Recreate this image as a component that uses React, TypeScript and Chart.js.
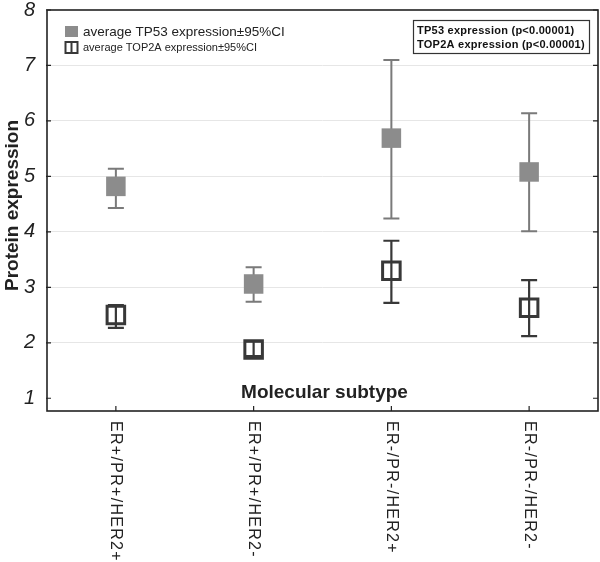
import React, { useEffect, useRef } from "react";
import { Chart, registerables } from "chart.js";

Chart.register(...registerables);

const categories = ["ER+/PR+/HER2+", "ER+/PR+/HER2-", "ER-/PR-/HER2+", "ER-/PR-/HER2-"];
const tp53Mean = [4.82, 3.06, 5.69, 5.08];
const tp53Low = [4.43, 2.74, 4.24, 4.01];
const tp53High = [5.14, 3.36, 7.1, 6.14];
const top2aMean = [2.5, 1.88, 3.3, 2.63];
const top2aLow = [2.27, 1.76, 2.72, 2.12];
const top2aHigh = [2.68, 2.02, 3.84, 3.13];
const yTicks = [1, 2, 3, 4, 5, 6, 7, 8];
const legendLabels = ["average TP53 expression±95%CI", "average TOP2A expression±95%CI"];
const annotationLines = ["TP53 expression (p<0.00001)", "TOP2A expression (p<0.00001)"];
const xTitle = "Molecular subtype";
const yTitle = "Protein expression";

const FONT = "'Liberation Sans', Arial, sans-serif";
const TP53_FILL = "#8c8c8c";
const TP53_BAR = "#7a7a7a";
const TOP2A_COLOR = "#383838";
const AXIS = "#222222";

const customPlugin = {
  id: "customDraw",
  beforeDatasetsDraw(chart: any) {
    const ctx = chart.ctx;
    const xs = chart.scales.x;
    const ys = chart.scales.y;
    const drawBars = (lo: number[], hi: number[], color: string, lw: number) => {
      ctx.save();
      ctx.strokeStyle = color;
      ctx.lineWidth = lw;
      for (let i = 0; i < categories.length; i++) {
        const x = xs.getPixelForValue(i);
        const y1 = ys.getPixelForValue(lo[i]);
        const y2 = ys.getPixelForValue(hi[i]);
        ctx.beginPath();
        ctx.moveTo(x, y1);
        ctx.lineTo(x, y2);
        ctx.moveTo(x - 8, y1);
        ctx.lineTo(x + 8, y1);
        ctx.moveTo(x - 8, y2);
        ctx.lineTo(x + 8, y2);
        ctx.stroke();
      }
      ctx.restore();
    };
    drawBars(tp53Low, tp53High, TP53_BAR, 2);
    drawBars(top2aLow, top2aHigh, TOP2A_COLOR, 2.2);
  },
  afterDraw(chart: any) {
    const ctx = chart.ctx;
    const { left, right, top, bottom } = chart.chartArea;
    const xs = chart.scales.x;
    const ys = chart.scales.y;
    ctx.save();
    // frame
    ctx.strokeStyle = AXIS;
    ctx.lineWidth = 1.6;
    ctx.strokeRect(left, top, right - left, bottom - top);
    // ticks
    ctx.lineWidth = 1.2;
    ctx.beginPath();
    for (const v of yTicks) {
      const y = ys.getPixelForValue(v);
      ctx.moveTo(left - 1, y);
      ctx.lineTo(left + 4, y);
      ctx.moveTo(right - 5, y);
      ctx.lineTo(right, y);
    }
    for (let i = 0; i < categories.length; i++) {
      const x = xs.getPixelForValue(i);
      ctx.moveTo(x, bottom);
      ctx.lineTo(x, bottom - 5);
    }
    ctx.stroke();

    // x labels (rotated clockwise)
    ctx.fillStyle = AXIS;
    ctx.font = `16px ${FONT}`;
    (ctx as any).letterSpacing = "1.3px";
    for (let i = 0; i < categories.length; i++) {
      const x = xs.getPixelForValue(i);
      ctx.save();
      ctx.translate(x, bottom + 10);
      ctx.rotate(Math.PI / 2);
      ctx.textAlign = "left";
      ctx.textBaseline = "middle";
      ctx.fillText(categories[i], 0, 0);
      ctx.restore();
    }
    (ctx as any).letterSpacing = "0px";

    // x title inside plot
    ctx.font = `bold 19px ${FONT}`;
    ctx.textAlign = "center";
    ctx.textBaseline = "middle";
    ctx.fillText(xTitle, (left + right) / 2 + 2, bottom - 18);

    // y title
    ctx.save();
    ctx.translate(13, (top + bottom) / 2 - 5);
    ctx.rotate(-Math.PI / 2);
    ctx.font = `bold 19px ${FONT}`;
    ctx.textAlign = "center";
    ctx.textBaseline = "middle";
    ctx.fillText(yTitle, 0, 0);
    ctx.restore();

    // legend
    ctx.fillStyle = TP53_FILL;
    ctx.fillRect(65, 26, 13, 11);
    ctx.strokeStyle = TOP2A_COLOR;
    ctx.lineWidth = 2;
    ctx.strokeRect(65.5, 42, 12, 11);
    ctx.beginPath();
    ctx.moveTo(71.5, 42);
    ctx.lineTo(71.5, 53);
    ctx.stroke();
    ctx.fillStyle = AXIS;
    ctx.textAlign = "left";
    ctx.textBaseline = "middle";
    ctx.font = `13.5px ${FONT}`;
    ctx.fillText(legendLabels[0], 83, 32);
    ctx.font = `11px ${FONT}`;
    ctx.fillText(legendLabels[1], 83, 47.5);

    // annotation box
    ctx.strokeStyle = "#333";
    ctx.lineWidth = 1.2;
    ctx.strokeRect(413.5, 20.5, 176, 33);
    ctx.font = `bold 11px ${FONT}`;
    (ctx as any).letterSpacing = "0.25px";
    ctx.fillStyle = "#111";
    ctx.fillText(annotationLines[0], 417, 31);
    ctx.fillText(annotationLines[1], 417, 44.5);
    (ctx as any).letterSpacing = "0px";
    ctx.restore();
  },
};

export default function App() {
  const canvasRef = useRef<HTMLCanvasElement | null>(null);

  useEffect(() => {
    if (!canvasRef.current) return;
    const chart = new Chart(canvasRef.current, {
      type: "line",
      data: {
        labels: categories,
        datasets: [
          {
            label: legendLabels[0],
            data: tp53Mean,
            showLine: false,
            pointStyle: "rect",
            pointRadius: 13.8,
            pointBackgroundColor: TP53_FILL,
            pointBorderWidth: 0,
            pointBorderColor: TP53_FILL,
          },
          {
            label: legendLabels[1],
            data: top2aMean,
            showLine: false,
            pointStyle: "rect",
            pointRadius: 12.4,
            pointBackgroundColor: "rgba(0,0,0,0)",
            pointBorderWidth: 3,
            pointBorderColor: TOP2A_COLOR,
          },
        ],
      },
      options: {
        responsive: false,
        animation: false,
        events: [],
        clip: false,
        layout: { autoPadding: false, padding: { top: 10, right: 2, left: 0, bottom: 0 } },
        plugins: { legend: { display: false }, tooltip: { enabled: false } },
        scales: {
          x: {
            type: "category",
            offset: true,
            grid: { display: false },
            border: { display: false },
            ticks: { display: false },
            afterFit: (s: any) => {
              s.height = 151;
              s.paddingLeft = 0;
              s.paddingRight = 0;
              s.paddingTop = 0;
              s.paddingBottom = 0;
            },
          },
          y: {
            min: 0.77,
            max: 8,
            afterBuildTicks: (s: any) => {
              s.ticks = yTicks.map((v) => ({ value: v }));
            },
            afterFit: (s: any) => {
              s.width = 47;
              s.paddingTop = 0;
              s.paddingBottom = 0;
              s.paddingLeft = 0;
              s.paddingRight = 0;
            },
            border: { display: false },
            grid: {
              drawTicks: false,
              lineWidth: 1,
              color: (c: any) =>
                c.tick && (c.tick.value === 1 || c.tick.value === 8) ? "rgba(0,0,0,0)" : "#e6e6e6",
            },
            ticks: {
              padding: 12,
              color: AXIS,
              font: { family: FONT, size: 20, style: "italic" },
            },
          },
        },
      },
      plugins: [customPlugin],
    });
    return () => chart.destroy();
  }, []);

  return (
    <div style={{ position: "absolute", left: 0, top: 0, width: 600, height: 562, background: "#fff" }}>
      <canvas ref={canvasRef} width={600} height={562} style={{ display: "block" }} />
    </div>
  );
}
